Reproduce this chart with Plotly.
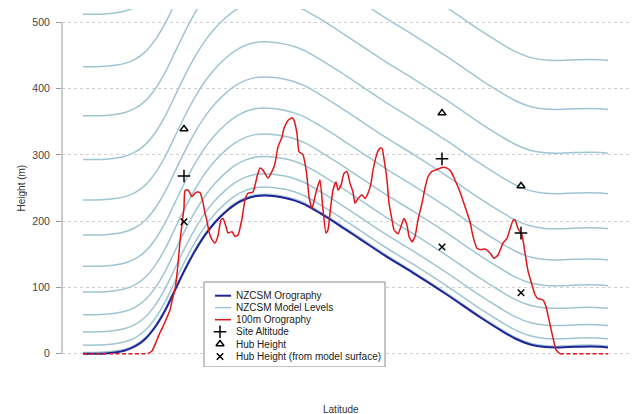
import plotly.graph_objects as go

# ---------------- data ----------------
# NZCSM model orography along the transect
orog_lat = [-41.300, -41.288, -41.278, -41.268, -41.258, -41.248, -41.238, -41.228,
            -41.218, -41.208, -41.198, -41.188, -41.178, -41.168, -41.158, -41.148,
            -41.138, -41.128, -41.118, -41.108, -41.098, -41.088, -41.078, -41.063,
            -41.043, -41.023, -40.998, -40.970, -40.936, -40.903, -40.883, -40.868,
            -40.853, -40.838, -40.823, -40.808, -40.793, -40.783, -40.775]
orog_h = [0, 0, 0.5, 2, 5, 11, 22, 40,
          65, 96, 127, 155, 179, 198, 213, 225,
          233, 237.5, 238.5, 237.5, 235, 231, 225, 212,
          193, 173, 148, 122, 89, 55, 36, 23,
          14, 10, 9.5, 10.5, 11, 10.5, 9.5]

# model level heights above the model surface (terrain following)
level_offsets = [2, 13, 33, 59, 93, 132, 179, 232, 293, 359, 433, 512]

# 100 m resolution orography (land part)
red_lat = [-41.235, -41.231, -41.226, -41.223, -41.220, -41.216, -41.213, -41.211,
           -41.208, -41.205, -41.203, -41.201, -41.199, -41.198, -41.195, -41.193,
           -41.191, -41.188, -41.186, -41.183, -41.180, -41.178, -41.176, -41.174,
           -41.171, -41.168, -41.165, -41.162, -41.160, -41.157, -41.155, -41.151,
           -41.148, -41.145, -41.141, -41.138, -41.135, -41.130, -41.126, -41.123,
           -41.120, -41.115, -41.111, -41.108, -41.105, -41.101, -41.099, -41.095,
           -41.091, -41.089, -41.086, -41.084, -41.080, -41.078, -41.076, -41.074,
           -41.071, -41.068, -41.065, -41.063, -41.060, -41.057, -41.055, -41.053,
           -41.050, -41.047, -41.045, -41.042, -41.039, -41.036, -41.033, -41.030,
           -41.028, -41.025, -41.021, -41.018, -41.015, -41.012, -41.010, -41.007,
           -41.005, -41.003, -41.001, -40.999, -40.996, -40.994, -40.991, -40.989,
           -40.985, -40.982, -40.979, -40.976, -40.974, -40.971, -40.968, -40.965,
           -40.961, -40.958, -40.955, -40.951, -40.946, -40.941, -40.936, -40.932,
           -40.928, -40.923, -40.918, -40.913, -40.910, -40.906, -40.902, -40.898,
           -40.893, -40.889, -40.885, -40.880, -40.876, -40.873, -40.870, -40.868,
           -40.865, -40.861, -40.858, -40.855, -40.851, -40.848, -40.845, -40.840,
           -40.837, -40.834, -40.830, -40.827, -40.823]
red_h = [0, 4, 21, 32, 41, 55, 66, 80,
         97, 135, 170, 195, 220, 246, 247, 242,
         237, 242, 244, 243, 228, 212, 200, 184,
         172, 167, 178, 202, 204, 192, 182, 184,
         177, 179, 204, 232, 242, 244, 267, 280,
         277, 265, 275, 287, 312, 327, 340, 352,
         356, 352, 332, 305, 300, 287, 267, 237,
         219, 237, 254, 262, 217, 182, 187, 212,
         247, 259, 247, 254, 272, 275, 257, 244,
         227, 234, 240, 234, 242, 257, 277, 297,
         306, 310, 310, 294, 262, 227, 202, 187,
         181, 192, 204, 194, 177, 169, 177, 202,
         227, 250, 267, 275, 278, 281, 280, 275,
         262, 244, 222, 199, 177, 159, 157, 158,
         152, 144, 149, 167, 174, 188, 201, 202,
         189, 179, 152, 125, 104, 89, 83, 81,
         71, 51, 24, 6, 0]

# sea parts of the 100 m orography (drawn dashed at 0 m)
sea_left_lat = [-41.300, -41.235]
sea_right_lat = [-40.823, -40.775]
sea_h = [0, 0]

# wind farm sites
site_lat = [-41.199, -40.941, -40.862]
site_alt = [268, 294, 182]
hub_height = [339, 363, 253]
hub_model = [199, 161, 92]

ytick_vals = [0, 100, 200, 300, 400, 500]

legend_labels = ["NZCSM Orography", "NZCSM Model Levels", "100m Orography",
                 "Site Altitude", "Hub Height", "Hub Height (from model surface)"]

# ---------------- styling ----------------
FONT = "Liberation Sans, Arial, Helvetica, sans-serif"
LEVEL_C = "#9fc5d3"
OROG_C = "#1f2496"
RED_C = "#e0161b"
AXIS_C = "#9a9a9a"
TEXT_C = "#333333"

W, H = 640, 414
ML, MR, MT, MB = 62, 11, 9, 47

fig = go.Figure()

# model levels
for off in level_offsets:
    fig.add_trace(go.Scatter(
        x=orog_lat, y=[h + off for h in orog_h], mode="lines",
        line=dict(color=LEVEL_C, width=1.5, shape="spline", smoothing=1.0),
        showlegend=False, hoverinfo="skip"))

# model orography
fig.add_trace(go.Scatter(
    x=orog_lat, y=orog_h, mode="lines",
    line=dict(color=OROG_C, width=2, shape="spline", smoothing=1.0),
    showlegend=False))

# 100 m orography
fig.add_trace(go.Scatter(
    x=red_lat, y=red_h, mode="lines",
    line=dict(color=RED_C, width=1.5, shape="spline", smoothing=0.5),
    showlegend=False))
for lat in (sea_left_lat, sea_right_lat):
    fig.add_trace(go.Scatter(
        x=lat, y=sea_h, mode="lines",
        line=dict(color=RED_C, width=1.5, dash="4px,2.5px"),
        showlegend=False))

# site markers
mk_line = dict(color="black", width=1.5)
fig.add_trace(go.Scatter(x=site_lat, y=site_alt, mode="markers", showlegend=False,
                         marker=dict(symbol="cross-thin", size=9, color="black", line=mk_line)))
fig.add_trace(go.Scatter(x=site_lat, y=hub_height, mode="markers", showlegend=False,
                         marker=dict(symbol="triangle-up-open", size=7, color="black", line=mk_line)))
fig.add_trace(go.Scatter(x=site_lat, y=hub_model, mode="markers", showlegend=False,
                         marker=dict(symbol="x-thin", size=6.5, color="black", line=mk_line)))

# ---------------- hand-drawn legend (overlay axes in pixel units) ----------------
bx0, bx1, by0, by1 = 204, 385, 282, 367
rows = [295.7, 307.6, 319.7, 331.8, 344.0, 356.5]
seg = (215, 231)
sym_x = 220
fig.add_trace(go.Scatter(x=[bx0, bx1, bx1, bx0, bx0], y=[by0, by0, by1, by1, by0],
                         xaxis="x2", yaxis="y2", mode="lines", fill="toself",
                         fillcolor="white", line=dict(color="#8a8a8a", width=1),
                         showlegend=False, hoverinfo="skip"))
for yy, col, wd in zip(rows[:3], [OROG_C, LEVEL_C, RED_C], [2, 1.5, 1.5]):
    fig.add_trace(go.Scatter(x=list(seg), y=[yy, yy], xaxis="x2", yaxis="y2",
                             mode="lines", line=dict(color=col, width=wd),
                             showlegend=False, hoverinfo="skip"))
for yy, sym, sz in zip(rows[3:], ["cross-thin", "triangle-up-open", "x-thin"], [9, 7, 6.5]):
    fig.add_trace(go.Scatter(x=[sym_x], y=[yy], xaxis="x2", yaxis="y2", mode="markers",
                             marker=dict(symbol=sym, size=sz, color="black", line=mk_line),
                             showlegend=False, hoverinfo="skip"))
for yy, lab in zip(rows, legend_labels):
    fig.add_annotation(x=234, y=yy, xref="x2", yref="y2", text=lab, showarrow=False,
                       xanchor="left", yanchor="middle",
                       font=dict(family=FONT, size=10, color="#222222"))

# ---------------- axes ----------------
pw = W - ML - MR
ph = H - MT - MB
fig.update_layout(
    width=W, height=H, autosize=False,
    margin=dict(l=ML, r=MR, t=MT, b=MB, pad=0),
    paper_bgcolor="white", plot_bgcolor="white",
    showlegend=False,
    font=dict(family=FONT, size=10, color=TEXT_C),
    xaxis=dict(range=[-41.321, -40.754], showticklabels=False, showgrid=False,
               zeroline=False, showline=False, ticks=""),
    yaxis=dict(range=[-20, 520], tickvals=ytick_vals, ticks="outside", ticklen=5,
               tickwidth=1, tickcolor=AXIS_C, showline=False, zeroline=False,
               showgrid=True, gridcolor="#cfcfcf", griddash="dot", gridwidth=1,
               tickfont=dict(family=FONT, size=10.5, color="#444444"),
               ticklabelstandoff=4),
    xaxis2=dict(overlaying="x", anchor="y2", range=[ML, W - MR], visible=False,
                fixedrange=True),
    yaxis2=dict(overlaying="y", anchor="x2", range=[H - MB, MT], visible=False,
                fixedrange=True),
)

# y axis line only spanning the tick range
fig.add_shape(type="line", xref="paper", yref="y", x0=0, x1=0,
              y0=ytick_vals[0], y1=ytick_vals[-1], line=dict(color=AXIS_C, width=1))

# axis titles
fig.add_annotation(text="Height (m)", xref="paper", yref="paper",
                   x=(20.5 - ML) / pw, y=0.5, textangle=-90, showarrow=False,
                   xanchor="center", yanchor="middle",
                   font=dict(family=FONT, size=10, color=TEXT_C))
fig.add_annotation(text="Latitude", xref="paper", yref="paper",
                   x=(341 - ML) / pw, y=(ph - (402 - MT)) / ph, showarrow=False,
                   xanchor="center", yanchor="top",
                   font=dict(family=FONT, size=10, color=TEXT_C))

# the page body default margin would shift the figure by 8 px; remove it
fig.write_html("out.html", config={"displayModeBar": False},
               post_script="document.body.style.margin='0px';document.body.style.overflow='hidden';")
